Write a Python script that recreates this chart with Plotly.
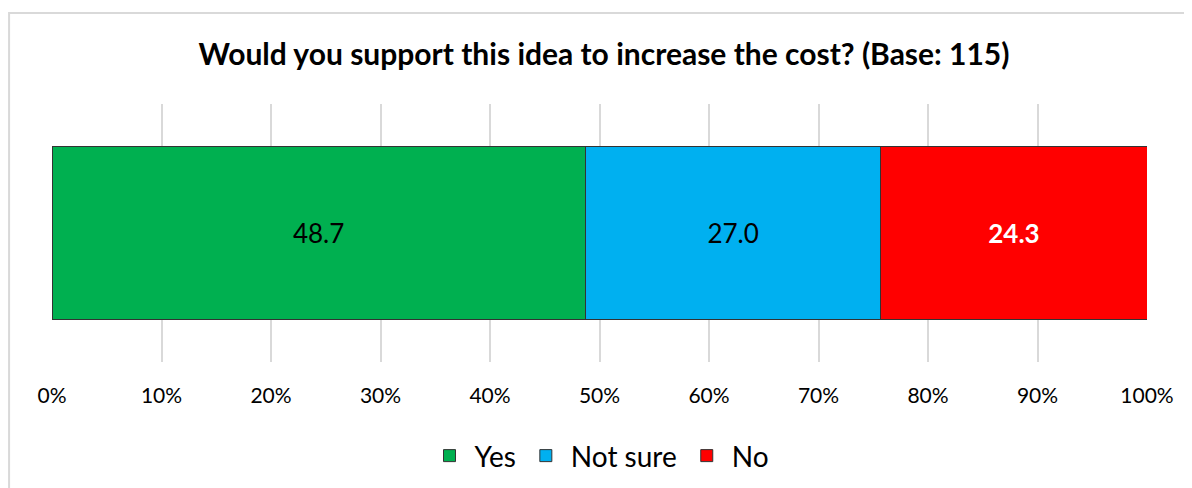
import plotly.graph_objects as go

# survey answers, share of respondents (%)
answers = ['Yes', 'Not sure', 'No']
shares = [48.7, 27.0, 24.3]
answer_colors = ['#00B050', '#00B0F0', '#FF0000']
label_colors = ['black', 'black', 'white']
label_bold = [False, False, True]

tick_vals = [0, 10, 20, 30, 40, 50, 60, 70, 80, 90, 100]
tick_text = [f'{v}%' for v in tick_vals]

FONT = 'Lato, "Open Sans", sans-serif'

fig = go.Figure()

for name, val, col, lcol, bold in zip(answers, shares, answer_colors,
                                      label_colors, label_bold):
    label = f'{val:.1f}'
    if bold:
        label = f'<b>{label}</b>'
    fig.add_trace(go.Bar(
        y=[''], x=[val], name=name, orientation='h',
        marker=dict(color=col, line=dict(color='#333333', width=1)),
        text=[label], textposition='inside', insidetextanchor='middle',
        textfont=dict(color=lcol, size=26, family=FONT),
        hoverinfo='skip'))

# the page adds an 8px body margin, so margins are shifted by 8px
fig.update_layout(
    width=1192, height=488,
    barmode='stack', bargap=0.33,
    plot_bgcolor='white', paper_bgcolor='white',
    font=dict(family=FONT, color='black'),
    margin=dict(l=44, r=53, t=96, b=134),
    title=dict(text='<b>Would you support this idea to increase the cost? (Base: 115)</b>',
               x=0.5, xanchor='center', y=0.904, yanchor='middle',
               font=dict(size=30, family=FONT, color='black')),
    legend=dict(orientation='h', x=0.5, xanchor='center', y=-0.364,
                yanchor='middle', font=dict(size=28, family=FONT),
                traceorder='normal', itemwidth=40),
    showlegend=True,
    uniformtext=dict(minsize=10, mode='show'),
)

fig.update_xaxes(range=[0, 100], tickvals=tick_vals, ticktext=tick_text,
                 showgrid=True, gridcolor='#D9D9D9', gridwidth=2,
                 zeroline=False, showline=False,
                 tickfont=dict(size=21, family=FONT, color='black'),
                 ticklabelstandoff=19, fixedrange=True)
fig.update_yaxes(showticklabels=False, showgrid=False, zeroline=False,
                 range=[-0.5, 0.5], fixedrange=True)

# light outer border of the chart (left and top edges visible)
fig.add_shape(type='rect', xref='paper', yref='paper',
              x0=-0.0392, x1=1.3, y0=-1.0, y1=1.3527,
              line=dict(color='#D9D9D9', width=2), layer='below')

fig.write_html('out.html')
